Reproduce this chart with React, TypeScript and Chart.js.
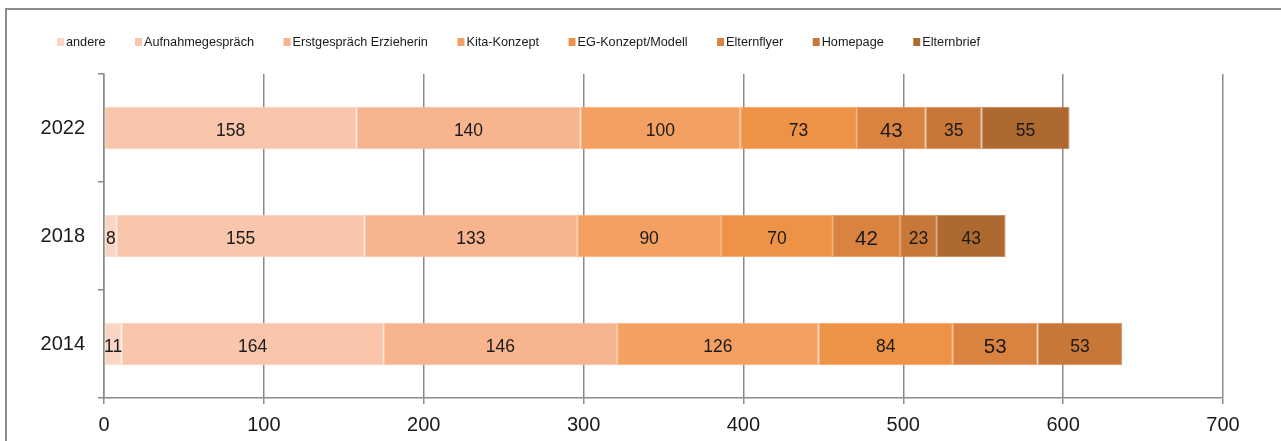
import React, { useEffect, useRef } from "react";
import { Chart, registerables } from "chart.js";

Chart.register(...registerables);

// ---- data ----
const years = ["2022", "2018", "2014"];
const seriesNames = [
  "andere",
  "Aufnahmegespräch",
  "Erstgespräch Erzieherin",
  "Kita-Konzept",
  "EG-Konzept/Modell",
  "Elternflyer",
  "Homepage",
  "Elternbrief",
];
const andere = [0, 8, 11];
const aufnahmegespraech = [158, 155, 164];
const erstgespraech = [140, 133, 146];
const kitaKonzept = [100, 90, 126];
const egKonzept = [73, 70, 84];
const elternflyer = [43, 42, 53];
const homepage = [35, 23, 53];
const elternbrief = [55, 43, 0];
const xMin = 0;
const xMax = 700;
const xStep = 100;

const seriesValues = [
  andere,
  aufnahmegespraech,
  erstgespraech,
  kitaKonzept,
  egKonzept,
  elternflyer,
  homepage,
  elternbrief,
];
const seriesColors = [
  "#F9D5C4",
  "#F9C6AB",
  "#F7B48F",
  "#F5A063",
  "#EE9246",
  "#DA8341",
  "#C77737",
  "#AD6930",
];
const bigLabelSeries = [5]; // Elternflyer labels drawn larger

const FONT = '"Liberation Sans", Arial, sans-serif';
const GRID = "#8a8a8a";

function tint(hex: string, amt: number) {
  const n = parseInt(hex.slice(1), 16);
  const r = (n >> 16) & 255, g = (n >> 8) & 255, b = n & 255;
  const m = (c: number) => Math.round(c + (255 - c) * amt);
  return `rgb(${m(r)},${m(g)},${m(b)})`;
}

const labelPlugin = {
  id: "segmentLabels",
  afterDatasetsDraw(chart: any) {
    const ctx = chart.ctx;
    ctx.save();
    ctx.fillStyle = "#1a1a1a";
    ctx.textAlign = "center";
    ctx.textBaseline = "middle";
    chart.data.datasets.forEach((ds: any, i: number) => {
      const meta = chart.getDatasetMeta(i);
      const size = bigLabelSeries.includes(i) ? 20.5 : 17.5;
      ctx.font = `${size}px ${FONT}`;
      meta.data.forEach((el: any, j: number) => {
        const v = ds.data[j];
        if (!v) return;
        const p = el.getProps(["x", "y", "base"], true);
        ctx.fillText(String(v), (p.x + p.base) / 2, p.y + 3.5);
      });
    });
    ctx.restore();
  },
};

const legendPlugin = {
  id: "customLegend",
  afterDraw(chart: any) {
    const ctx = chart.ctx;
    ctx.save();
    ctx.font = `12.7px ${FONT}`;
    ctx.textBaseline = "middle";
    ctx.textAlign = "left";
    let x = 57;
    const y = 42;
    chart.data.datasets.forEach((ds: any) => {
      ctx.fillStyle = ds.backgroundColor;
      ctx.fillRect(x, y - 4, 7, 8);
      ctx.fillStyle = "#1a1a1a";
      const tx = x + 9;
      ctx.fillText(ds.label, tx, y);
      x = tx + ctx.measureText(ds.label).width + 29.5;
    });
    ctx.restore();
  },
};

export default function App() {
  const ref = useRef<HTMLCanvasElement | null>(null);

  useEffect(() => {
    if (!ref.current) return;
    const chart = new Chart(ref.current, {
      type: "bar",
      data: {
        labels: years,
        datasets: seriesNames.map((name, i) => ({
          label: name,
          data: seriesValues[i],
          backgroundColor: seriesColors[i],
          borderColor: tint(seriesColors[i], 0.18),
          borderWidth: 1,
          borderSkipped: false,
          categoryPercentage: 1,
          barPercentage: 0.395,
        })),
      },
      options: {
        indexAxis: "y",
        animation: false,
        responsive: false,
        layout: { padding: { top: 74, right: 58, left: 0, bottom: 0 } },
        plugins: {
          legend: { display: false },
          tooltip: { enabled: false },
          title: { display: false },
        },
        scales: {
          x: {
            stacked: true,
            min: xMin,
            max: xMax,
            ticks: {
              stepSize: xStep,
              color: "#1a1a1a",
              font: { family: FONT, size: 20 },
              padding: 9,
            },
            grid: {
              color: GRID,
              lineWidth: 1.5,
              tickLength: 6,
              drawOnChartArea: true,
              drawTicks: true,
            },
            border: { display: true, color: GRID, width: 1.5 },
            afterFit(scale: any) {
              scale.height = 43;
            },
          },
          y: {
            stacked: true,
            offset: true,
            ticks: {
              color: "#1a1a1a",
              font: { family: FONT, size: 20 },
              padding: 13,
            },
            grid: {
              offset: true,
              color: GRID,
              lineWidth: 1.5,
              tickLength: 6,
              drawOnChartArea: false,
              drawTicks: true,
            },
            border: { display: true, color: GRID, width: 1.5 },
            afterFit(scale: any) {
              scale.width = 104;
            },
          },
        },
      },
      plugins: [labelPlugin, legendPlugin],
    });
    return () => chart.destroy();
  }, []);

  return (
    <div
      style={{
        position: "fixed",
        left: 0,
        top: 0,
        width: 1281,
        height: 441,
        overflow: "hidden",
        background: "#fff",
      }}
    >
      <div
        style={{
          position: "absolute",
          left: 5,
          top: 8,
          width: 1400,
          height: 600,
          border: "2px solid #8c8c8c",
          boxSizing: "border-box",
        }}
      />
      <canvas
        ref={ref}
        width={1281}
        height={441}
        style={{ position: "absolute", left: 0, top: 0, width: 1281, height: 441 }}
      />
    </div>
  );
}
